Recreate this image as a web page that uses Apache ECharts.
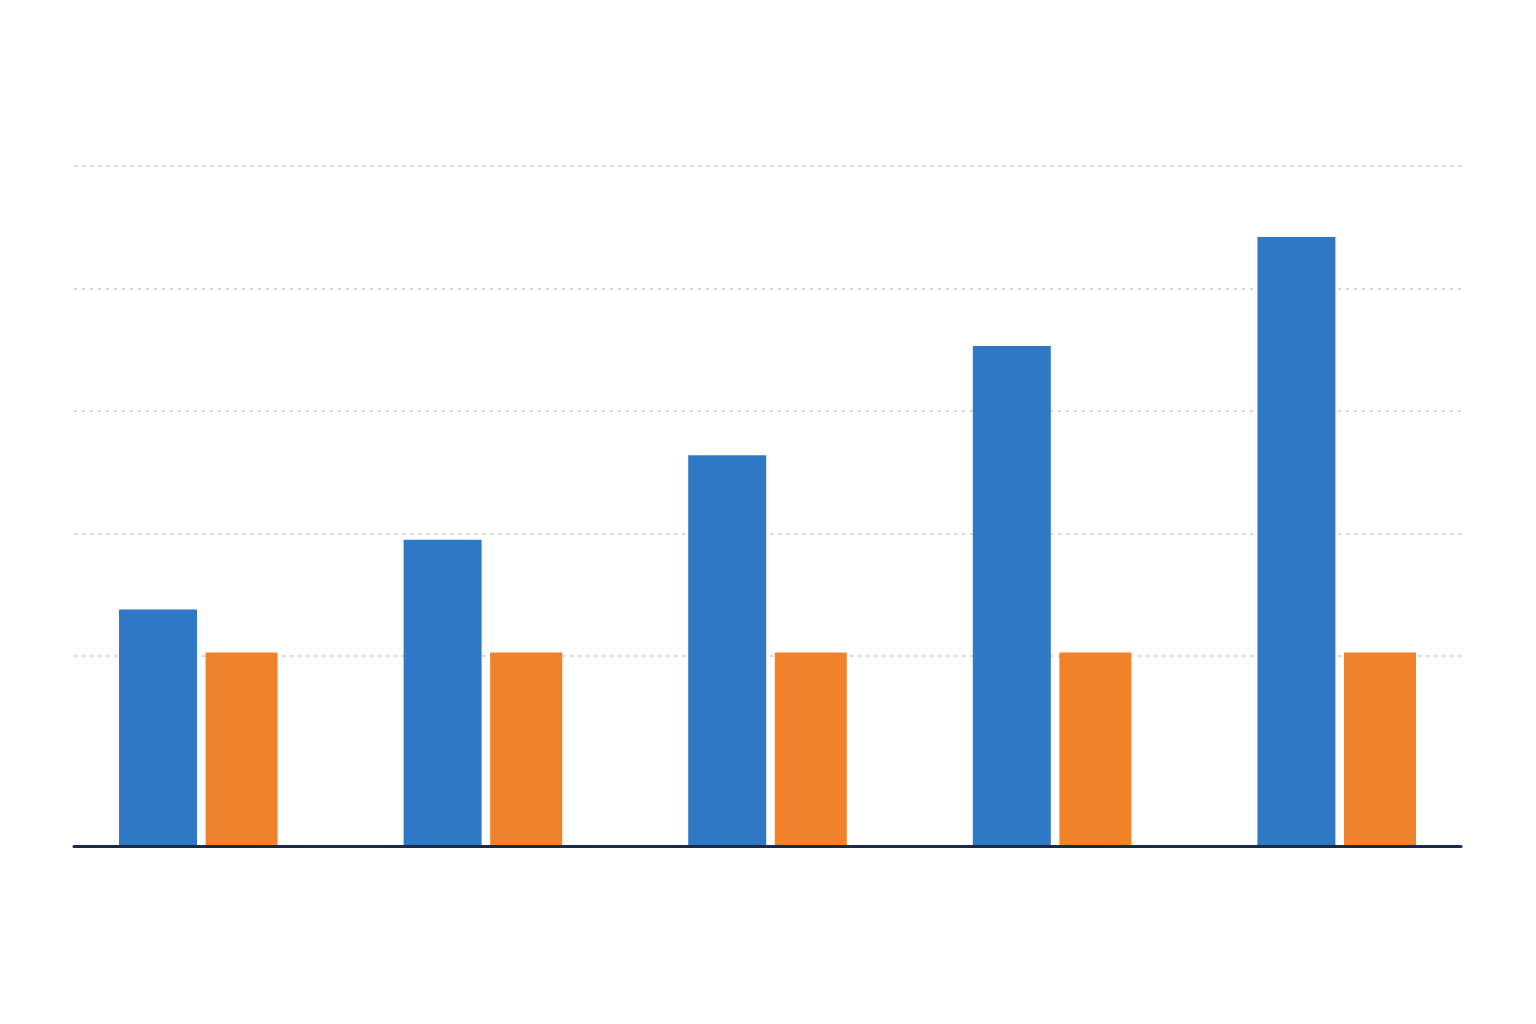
<!DOCTYPE html>
<html>
<head>
<meta charset="utf-8">
<title>Bar chart</title>
<script src="https://cdn.jsdelivr.net/npm/echarts@6/dist/echarts.min.js"></script>
<style>
  html, body { margin: 0; padding: 0; background: #ffffff; }
  #chart { width: 1536px; height: 1024px; }
</style>
</head>
<body>
<div id="chart"></div>
<script>
// Data (no labels shown in the original)
const categories = ['1', '2', '3', '4', '5'];
const blueValues = [19.3, 25.0, 31.9, 40.8, 49.7];
const orangeValues = [15.8, 15.8, 15.8, 15.8, 15.8];
const gridValues = [15.5, 25.5, 35.5, 45.5, 55.5];
const yMax = 55.5;

const myChart = echarts.init(document.getElementById('chart'));

const option = {
    backgroundColor: '#ffffff',
    animation: false,
    grid: [
        // grid 0 holds the bars
        { left: 56, right: 57, top: 166, bottom: 178 },
        // grid 1 only draws the baseline and the dotted lines
        { left: 74, right: 75, top: 166, bottom: 178 }
    ],
    xAxis: [
        {
            type: 'category',
            gridIndex: 0,
            data: categories,
            axisLine: { show: false },
            axisTick: { show: false },
            axisLabel: { show: false },
            splitLine: { show: false }
        },
        {
            type: 'category',
            gridIndex: 1,
            data: categories,
            z: 5,
            axisLine: {
                show: true,
                lineStyle: { color: '#1b2a48', width: 3 }
            },
            axisTick: { show: false },
            axisLabel: { show: false },
            splitLine: { show: false }
        }
    ],
    yAxis: [
        {
            type: 'value',
            gridIndex: 0,
            min: 0,
            max: yMax,
            axisLine: { show: false },
            axisTick: { show: false },
            axisLabel: { show: false },
            splitLine: { show: false }
        },
        {
            type: 'value',
            gridIndex: 1,
            min: 0,
            max: yMax,
            axisLine: { show: false },
            axisTick: { show: false, customValues: gridValues },
            axisLabel: { show: false, customValues: gridValues },
            splitLine: {
                show: true,
                lineStyle: {
                    color: '#d2d6de',
                    width: 2,
                    type: [3, 5]
                }
            }
        }
    ],
    series: [
        {
            name: 'Blue',
            type: 'bar',
            xAxisIndex: 0,
            yAxisIndex: 0,
            barWidth: 78,
            barGap: '11%',
            itemStyle: { color: '#2e78c5' },
            data: blueValues
        },
        {
            name: 'Orange',
            type: 'bar',
            xAxisIndex: 0,
            yAxisIndex: 0,
            barWidth: 72,
            barGap: '11%',
            itemStyle: { color: '#ef822b' },
            data: orangeValues
        }
    ]
};

myChart.setOption(option);

window.addEventListener('resize', () => {
    myChart.resize();
});
</script>
</body>
</html>
